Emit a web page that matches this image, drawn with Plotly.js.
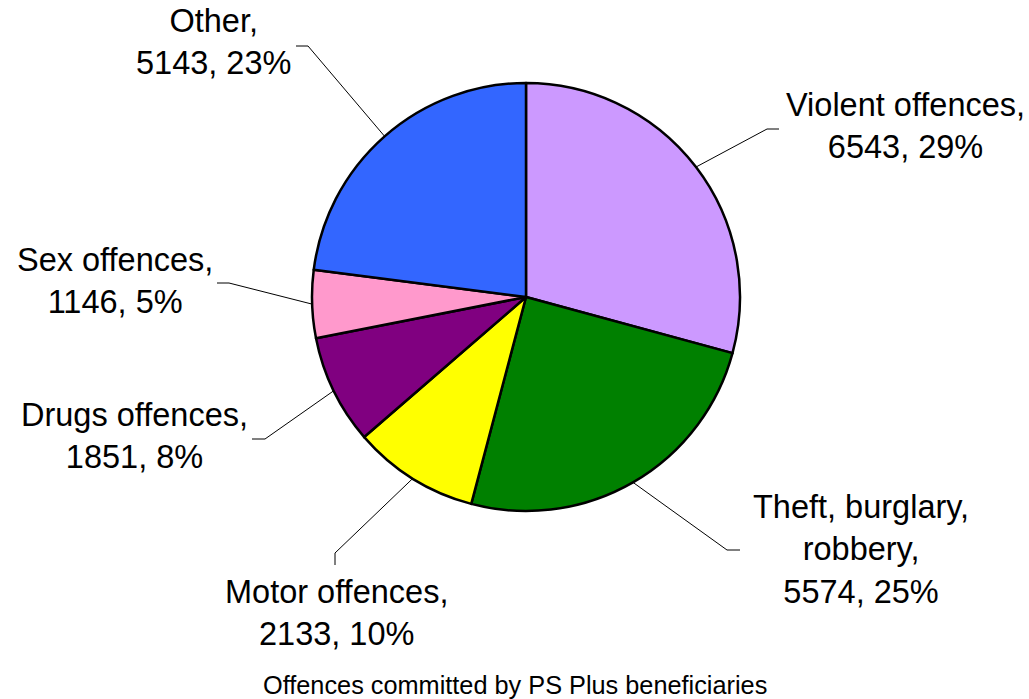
<!DOCTYPE html>
<html>
<head>
<meta charset="utf-8">
<script src="https://cdn.plot.ly/plotly-3.0.1.min.js"></script>
<style>html,body{margin:0;padding:0;background:#fff;}#chart{width:1029px;height:699px;}</style>
</head>
<body>
<div id="chart"></div>
<script>
// ---- data ----
const categories = ["Violent offences", "Theft, burglary,<br>robbery", "Motor offences", "Drugs offences", "Sex offences", "Other"];
const values = [6543, 5574, 2133, 1851, 1146, 5143];
const percentLabels = ["29%", "25%", "10%", "8%", "5%", "23%"];
const sliceColors = ["#CC99FF", "#008000", "#FFFF00", "#800080", "#FF99CC", "#3366FF"];
const chartTitle = "Offences committed by PS Plus beneficiaries";

// ---- layout (pixels) ----
const W = 1029, H = 699;
const CX = 526, CY = 297, R = 214;
// label block centres
const labelPos = [[905,126],[861,549],[336,613],[134,436],[115,281],[213,42]];
// leader line elbow and end points
const elbows = [[767,129],[727,550],[335,553],[265,439],[229,283],[308,46]];
const ends = [[779,129],[740,550],[335,565],[252,439],[217,283],[296,46]];

const px = x => x / W;
const py = y => 1 - y / H;

const total = values.reduce((a,b)=>a+b,0);
let cum = 0;
const shapes = [];
const annotations = [];
values.forEach((v,i)=>{
  const midFrac = (cum + v/2) / total;
  cum += v;
  const th = midFrac * 2 * Math.PI;
  const sx = CX + R * Math.sin(th), sy = CY - R * Math.cos(th);
  shapes.push({type:'path', xref:'paper', yref:'paper',
    path:`M ${px(sx)} ${py(sy)} L ${px(elbows[i][0])} ${py(elbows[i][1])} L ${px(ends[i][0])} ${py(ends[i][1])}`,
    line:{color:'#000', width:1}});
  const name = categories[i].indexOf('<br>')>=0 ? categories[i].replace('robbery','robbery,') : categories[i] + ',';
  annotations.push({xref:'paper', yref:'paper', x:px(labelPos[i][0]), y:py(labelPos[i][1]),
    xanchor:'center', yanchor:'middle', showarrow:false, align:'center',
    text: name + '<br>' + v + ', ' + percentLabels[i],
    font:{family:'Liberation Sans, Arial, sans-serif', size:32.5, color:'#000'}});
});
annotations.push({xref:'paper', yref:'paper', x:px(515), y:py(685), xanchor:'center', yanchor:'middle',
  showarrow:false, text:chartTitle, font:{family:'Liberation Sans, Arial, sans-serif', size:25.3, color:'#000'}});

const trace = {
  type:'pie', labels:categories, values:values, sort:false, direction:'clockwise', rotation:0,
  marker:{colors:sliceColors, line:{color:'#000', width:2.5}},
  textinfo:'none', hoverinfo:'label+value+percent', showlegend:false,
  domain:{x:[px(CX-R), px(CX+R)], y:[py(CY+R), py(CY-R)]}
};

Plotly.newPlot('chart', [trace], {
  width:W, height:H, margin:{l:0,r:0,t:0,b:0},
  paper_bgcolor:'#fff', plot_bgcolor:'#fff', showlegend:false,
  shapes:shapes, annotations:annotations
}, {displayModeBar:false, staticPlot:true});
</script>
</body>
</html>
